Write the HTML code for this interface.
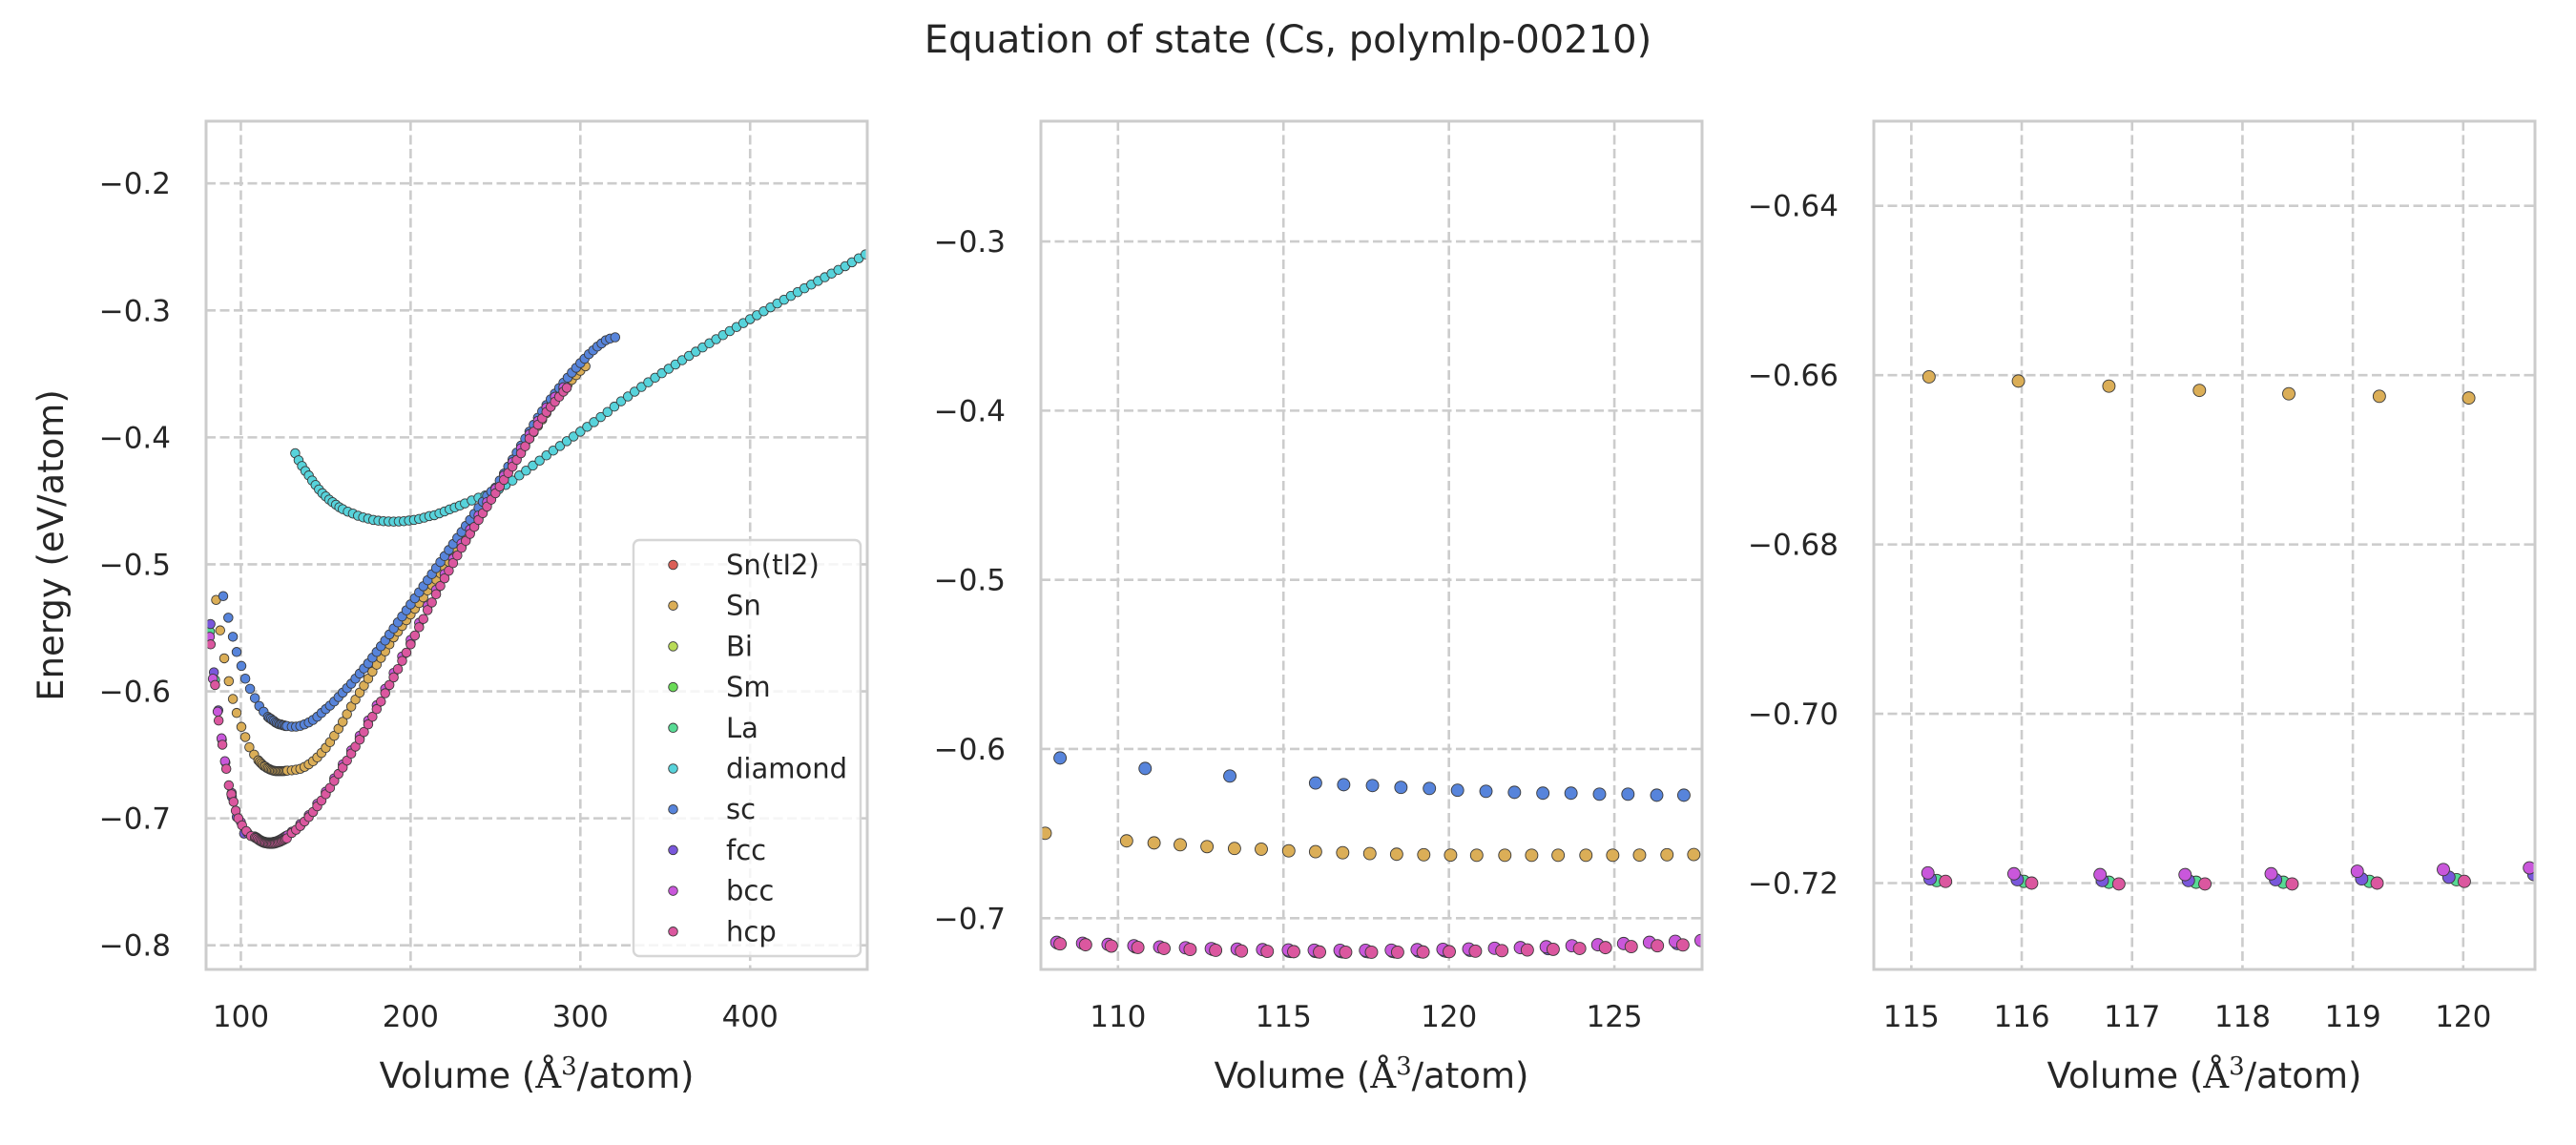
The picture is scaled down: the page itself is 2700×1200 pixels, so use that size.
<!DOCTYPE html>
<html><head><meta charset="utf-8"><title>Equation of state (Cs, polymlp-00210)</title>
<style>
html,body{margin:0;padding:0;background:#fff;}
svg{display:block;font-family:"DejaVu Sans","Liberation Sans",sans-serif;}
</style></head>
<body>
<svg id="chart" xmlns="http://www.w3.org/2000/svg" width="2700" height="1200" viewBox="0 0 2700 1200">
<rect width="2700" height="1200" fill="#ffffff"/>
<text x="1350" y="55" text-anchor="middle" font-size="40" fill="#262626">Equation of state (Cs, polymlp-00210)</text>
<g id="layer"></g>
</svg>
<script>
// ---- data (volume in Å^3/atom, energy in eV/atom) ----
const structures = ["Sn(tI2)","Sn","Bi","Sm","La","diamond","sc","fcc","bcc","hcp"];
const colors = ["#db5f57","#dbae57","#b9db57","#6adb57","#57db94","#57d3db","#5784db","#7957db","#c957db","#db579f"];

const snV = [85.4,87.8,90.2,92.9,95.3,97.5,100.3,102.6,105,107.8,110.26,111.09,111.88,112.69,113.52,114.33,115.16,115.97,116.79,117.61,118.42,119.24,120.05,120.84,121.69,122.5,123.3,124.14,124.95,125.76,126.59,127.4,130,132.5,135,137.5,140,142.5,145,147.5,150,152.5,155,157.5,160,162.5,165,167.5,170,172.5,175,177.5,180,182.5,185,187.5,190,192.5,195,197.5,200,202.5,205,207.5,210,212.5,215,217.5,220,222.5,225,227.5,230,232.5,235,237.5,240,242.5,245,247.5,250,252.5,255,257.5,260,262.5,265,267.5,270,272.5,275,277.5,280,282.5,285,287.5,290,292.5,295,297.5,300,303];
const snE = [-0.528,-0.552,-0.574,-0.592,-0.606,-0.617,-0.628,-0.636,-0.644,-0.6498,-0.6543,-0.6555,-0.6566,-0.6577,-0.6588,-0.6592,-0.6602,-0.6607,-0.6613,-0.6618,-0.6622,-0.6625,-0.6627,-0.6628,-0.6628,-0.6628,-0.6628,-0.6628,-0.6628,-0.6627,-0.6625,-0.6624,-0.6622,-0.6617,-0.661,-0.6595,-0.6575,-0.655,-0.652,-0.6485,-0.6445,-0.64,-0.635,-0.6295,-0.624,-0.618,-0.612,-0.6065,-0.601,-0.5955,-0.59,-0.5845,-0.579,-0.5737,-0.5685,-0.563,-0.5575,-0.553,-0.5485,-0.544,-0.5395,-0.535,-0.5305,-0.526,-0.5205,-0.5162,-0.512,-0.507,-0.5025,-0.498,-0.4935,-0.489,-0.486,-0.4805,-0.475,-0.4695,-0.464,-0.4585,-0.453,-0.4475,-0.442,-0.437,-0.432,-0.427,-0.422,-0.4167,-0.4115,-0.406,-0.401,-0.396,-0.391,-0.386,-0.381,-0.376,-0.3715,-0.3668,-0.3625,-0.3585,-0.3547,-0.351,-0.3475,-0.344];

const laV = [81.8,84.8,115.23,116.02,116.79,117.58,118.37,119.15,119.94];
const laE = [-0.553,-0.591,-0.7197,-0.7198,-0.7199,-0.7199,-0.7199,-0.7198,-0.7196];

const diaV = [132,134,136,138,140,142,144,146,148,150,152,154,156,158,160,163,166,169,172,175,178,181,184,187,190,193,196,199,202,205,208,211,214,217,220,223,226,229,232,236,240,244,248,252,256,260,264,268,272,276,280,284,288,292,296,300,304,308,312,316,320,324,328,332,336,340,344,348,352,356,360,364,368,372,376,380,384,388,392,396,400,404,408,412,416,420,424,428,432,436,440,444,448,452,456,460,464,468,472];
const diaE = [-0.4125,-0.418,-0.4225,-0.4265,-0.430,-0.434,-0.4375,-0.441,-0.444,-0.4465,-0.449,-0.451,-0.453,-0.455,-0.4565,-0.4585,-0.460,-0.4617,-0.463,-0.464,-0.465,-0.4656,-0.466,-0.4662,-0.4663,-0.4662,-0.466,-0.4655,-0.465,-0.4642,-0.4632,-0.462,-0.4613,-0.4598,-0.4583,-0.4567,-0.4552,-0.4537,-0.452,-0.4497,-0.4475,-0.4457,-0.444,-0.4408,-0.4375,-0.434,-0.430,-0.4262,-0.4222,-0.4183,-0.4142,-0.4104,-0.4068,-0.403,-0.3993,-0.3955,-0.3917,-0.388,-0.384,-0.380,-0.3758,-0.3716,-0.3678,-0.364,-0.3603,-0.3566,-0.353,-0.3495,-0.346,-0.3426,-0.3392,-0.3358,-0.3325,-0.3292,-0.3259,-0.3227,-0.3195,-0.3163,-0.3131,-0.310,-0.3069,-0.3038,-0.3007,-0.2976,-0.2946,-0.2916,-0.2886,-0.2856,-0.2826,-0.2797,-0.2768,-0.2739,-0.271,-0.2681,-0.2652,-0.2621,-0.259,-0.2559,-0.2528];

const scV = [89.6,92.6,95.3,97.5,100.3,102.6,105.4,108.25,110.82,113.38,115.97,116.82,117.69,118.55,119.41,120.26,121.12,121.98,122.84,123.69,124.55,125.41,126.28,127.1,130,132.5,135,137.5,140,142.5,145,147.5,150,152.5,155,157.5,160,162.5,165,167.5,170,172.5,175,177.5,180,182.5,185,187.5,190,192.5,195,197.5,200,202.5,205,207.5,210,212.5,215,217.5,220,222.5,225,227.5,230,232.5,235,237.5,240,242.5,245,247.5,250,252.5,255,257.5,260,262.5,265,267.5,270,272.5,275,277.5,280,282.5,285,287.5,290,292.5,295,297.5,300,302.5,305,307.5,310,312.5,315,317.5,320.5];
const scE = [-0.525,-0.542,-0.557,-0.569,-0.580,-0.590,-0.598,-0.6053,-0.6115,-0.616,-0.6201,-0.6211,-0.6216,-0.6227,-0.6233,-0.6244,-0.625,-0.6256,-0.6261,-0.6261,-0.6267,-0.6267,-0.6273,-0.6273,-0.6278,-0.6278,-0.6272,-0.626,-0.6245,-0.6225,-0.620,-0.617,-0.614,-0.6112,-0.608,-0.6045,-0.601,-0.5975,-0.594,-0.590,-0.586,-0.582,-0.578,-0.5735,-0.569,-0.5645,-0.560,-0.5552,-0.5505,-0.5457,-0.541,-0.5362,-0.5315,-0.5267,-0.522,-0.5172,-0.5125,-0.5077,-0.503,-0.4982,-0.4935,-0.4887,-0.484,-0.4792,-0.4745,-0.4697,-0.465,-0.4602,-0.4555,-0.4507,-0.446,-0.4427,-0.4395,-0.434,-0.4285,-0.423,-0.4175,-0.412,-0.4065,-0.401,-0.3955,-0.39,-0.3845,-0.3795,-0.3745,-0.37,-0.3655,-0.3612,-0.357,-0.353,-0.349,-0.3452,-0.3415,-0.338,-0.3345,-0.3315,-0.3285,-0.326,-0.3235,-0.3222,-0.3212];

const fccV = [82.1,84.1,86.7,88.8,90.9,94.7,97.6,101.9,108.18,110.53,112.87,115.17,115.96,116.73,117.51,118.30,119.08,119.87,120.64,123.0,126.9,135,150,170,200,230,260,290];
const fccE = [-0.547,-0.585,-0.615,-0.638,-0.656,-0.683,-0.699,-0.712,-0.7147,-0.7170,-0.7184,-0.7195,-0.7196,-0.7197,-0.7197,-0.7196,-0.7195,-0.7193,-0.7190,-0.7180,-0.7150,-0.706,-0.680,-0.637,-0.562,-0.484,-0.420,-0.362];

const bccV = [81.7,83.5,86.3,88.6,90.6,94.6,100,104,108.15,108.93,109.7,110.48,111.26,112.04,112.82,113.6,114.37,115.15,115.93,116.71,117.48,118.26,119.04,119.82,120.6,121.38,122.16,122.94,123.72,124.5,125.28,126.06,126.84,127.62,130,135,140,145,150,155,160,165,170,175,180,185,190,195,200,205,210,215,220,225,230,235,240,245,250,255,260,265,270,275,280,285,290];
const bccE = [-0.557,-0.590,-0.616,-0.637,-0.655,-0.680,-0.703,-0.7115,-0.7143,-0.7148,-0.7155,-0.7163,-0.7170,-0.7175,-0.7180,-0.7183,-0.7186,-0.7188,-0.7189,-0.7190,-0.7190,-0.7189,-0.7186,-0.7184,-0.7182,-0.7178,-0.7174,-0.7169,-0.7163,-0.7157,-0.7150,-0.7143,-0.7137,-0.7132,-0.7105,-0.7045,-0.6975,-0.6885,-0.679,-0.6685,-0.6575,-0.6465,-0.635,-0.623,-0.611,-0.598,-0.5855,-0.5725,-0.5595,-0.546,-0.5325,-0.520,-0.5075,-0.4955,-0.4835,-0.4725,-0.4615,-0.451,-0.4405,-0.430,-0.4195,-0.4085,-0.3975,-0.387,-0.3765,-0.368,-0.3605];

const hcpV = [82.2,84.8,86.9,89.1,91.4,92.9,94.4,95.7,97,98.5,100.7,103.2,106,108.25,109.02,109.8,110.6,111.39,112.18,112.95,113.73,114.51,115.31,116.09,116.88,117.66,118.45,119.22,120.01,120.8,121.6,122.37,123.15,123.95,124.73,125.51,126.3,127.07,130,132.5,135,137.5,140,142.5,145,147.5,150,152.5,155,157.5,160,162.5,165,167.5,170,172.5,175,177.5,180,182.5,185,187.5,190,192.5,195,197.5,200,202.5,205,207.5,210,212.5,215,217.5,220,222.5,225,227.5,230,232.5,235,237.5,240,242.5,245,247.5,250,252.5,255,257.5,260,262.5,265,267.5,270,272.5,275,277.5,280,282.5,285,287.5,290,292];
const hcpE = [-0.563,-0.595,-0.623,-0.642,-0.661,-0.674,-0.681,-0.687,-0.694,-0.700,-0.7055,-0.710,-0.714,-0.7152,-0.7157,-0.7165,-0.7173,-0.7179,-0.7185,-0.719,-0.7194,-0.7196,-0.7198,-0.7200,-0.7201,-0.7201,-0.7201,-0.7200,-0.7198,-0.7195,-0.7192,-0.7188,-0.7184,-0.7179,-0.7174,-0.7168,-0.7163,-0.7158,-0.7115,-0.709,-0.706,-0.7025,-0.699,-0.695,-0.6905,-0.686,-0.681,-0.676,-0.6705,-0.665,-0.660,-0.6545,-0.649,-0.6435,-0.638,-0.632,-0.626,-0.620,-0.614,-0.608,-0.6015,-0.595,-0.589,-0.5825,-0.576,-0.5695,-0.563,-0.556,-0.5495,-0.543,-0.536,-0.530,-0.5235,-0.517,-0.511,-0.505,-0.499,-0.493,-0.487,-0.4815,-0.476,-0.4705,-0.465,-0.4597,-0.4545,-0.449,-0.444,-0.4387,-0.4335,-0.428,-0.423,-0.4177,-0.4125,-0.407,-0.401,-0.3955,-0.390,-0.385,-0.380,-0.376,-0.372,-0.368,-0.364,-0.361];

// ticks
const p1XTicks = [100,200,300,400];
const p1YTicks = [-0.8,-0.7,-0.6,-0.5,-0.4,-0.3,-0.2];
const p2XTicks = [110,115,120,125];
const p2YTicks = [-0.7,-0.6,-0.5,-0.4,-0.3];
const p3XTicks = [115,116,117,118,119,120];
const p3YTicks = [-0.72,-0.70,-0.68,-0.66,-0.64];

const series = [
  {name:"Sn(tI2)", V:[], E:[]},
  {name:"Sn", V:snV, E:snE},
  {name:"Bi", V:[], E:[]},
  {name:"Sm", V:[], E:[]},
  {name:"La", V:laV, E:laE},
  {name:"diamond", V:diaV, E:diaE},
  {name:"sc", V:scV, E:scE},
  {name:"fcc", V:fccV, E:fccE},
  {name:"bcc", V:bccV, E:bccE},
  {name:"hcp", V:hcpV, E:hcpE}
];

const NS = "http://www.w3.org/2000/svg";
const layer = document.getElementById('layer');
function mk(tag, attrs, parent){
  const el = document.createElementNS(NS, tag);
  for (const k in attrs) el.setAttribute(k, attrs[k]);
  (parent||layer).appendChild(el);
  return el;
}
function fmt(v, dec){ const s = Math.abs(v).toFixed(dec); return (v<0?"\u2212":"")+s; }

const panels = [
  {id:"p1", L:216, T:127, W:693, H:889, x0:79.5, x1:469, y0:-0.819, y1:-0.151, xt:p1XTicks, yt:p1YTicks, dec:1, xdec:0, r:4.8, ylabel:true, legend:true},
  {id:"p2", L:1091, T:127, W:693, H:889, x0:107.67, x1:127.65, y0:-0.7303, y1:-0.2289, xt:p2XTicks, yt:p2YTicks, dec:1, xdec:0, r:6.5},
  {id:"p3", L:1964, T:127, W:693, H:889, x0:114.66, x1:120.65, y0:-0.7302, y1:-0.630, xt:p3XTicks, yt:p3YTicks, dec:2, xdec:0, r:6.5}
];

panels.forEach((p, pi) => {
  const sx = v => p.L + (v - p.x0) / (p.x1 - p.x0) * p.W;
  const sy = e => p.T + (p.y1 - e) / (p.y1 - p.y0) * p.H;
  const g = mk('g', {}, layer);
  
  
  const clipId = 'clip' + pi;
  const cp = mk('clipPath', {id: clipId}, g);
  mk('rect', {x:p.L, y:p.T, width:p.W, height:p.H}, cp);
  const grid = mk('g', {}, g);
  
  
  p.xt.forEach(t => {
    const ln = mk('line', {x1:sx(t), x2:sx(t), y1:p.T, y2:p.T+p.H, stroke:'#cccccc', 'stroke-width':2.6, 'stroke-dasharray':'10,4.5'}, grid);
    
    
    const tx = mk('text', {x:sx(t), y:1076, 'text-anchor':'middle', 'font-size':31, fill:'#262626'}, g);
    tx.textContent = fmt(t, p.xdec);
    
    
  });
  p.yt.forEach(t => {
    const ln = mk('line', {x1:p.L, x2:p.L+p.W, y1:sy(t), y2:sy(t), stroke:'#cccccc', 'stroke-width':2.6, 'stroke-dasharray':'10,4.5'}, grid);
    
    
    const tx = mk('text', {x:p.L-37, y:sy(t)+11, 'text-anchor':'end', 'font-size':31, fill:'#262626'}, g);
    tx.textContent = fmt(t, p.dec);
    
    
  });
  const pts = mk('g', {'clip-path':'url(#'+clipId+')'}, g);
  
  
  series.forEach((s, si) => {
    const sg = mk('g', {fill:colors[si], stroke:'#3a3a3a', 'stroke-width':0.9}, pts);
    
    
    for (let i = 0; i < s.V.length; i++) {
      const c = mk('circle', {cx:sx(s.V[i]), cy:sy(s.E[i]), r:p.r}, sg);
      
      
    }
  });
  const fr = mk('rect', {x:p.L, y:p.T, width:p.W, height:p.H, fill:'none', stroke:'#cccccc', 'stroke-width':3}, g);
  
  
  const xl = mk('text', {x:p.L+p.W/2, y:1140, 'text-anchor':'middle', 'font-size':37, fill:'#262626'}, g);
  
  
  xl.appendChild(document.createTextNode('Volume ('));
  const a = mk('tspan', {'font-family':'"DejaVu Serif","Liberation Serif",serif'}, xl);
  a.textContent = '\u00C5';
  const sup = mk('tspan', {'font-family':'"DejaVu Serif","Liberation Serif",serif', 'font-size':26, dy:-14}, xl);
  sup.textContent = '3';
  const rest = mk('tspan', {dy:14}, xl);
  rest.textContent = '/atom)';
  if (p.ylabel) {
    const yl = mk('text', {x:0, y:0, 'text-anchor':'middle', 'font-size':37, fill:'#262626', transform:'translate(66,'+(p.T+p.H/2)+') rotate(-90)'}, g);
    yl.textContent = 'Energy (eV/atom)';
    
    
  }
  if (p.legend) {
    const lg = mk('g', {}, g);
    
    
    const bx = mk('rect', {x:664, y:566, width:238, height:436, rx:6, fill:'#ffffff', 'fill-opacity':0.8, stroke:'#d6d6d6', 'stroke-width':2.4}, lg);
    
    
    structures.forEach((nm, i) => {
      const y = 592 + i*42.7;
      const e = mk('g', {}, lg);
      
      
      mk('circle', {cx:705.5, cy:y, r:4.8, fill:colors[i], stroke:'#3a3a3a', 'stroke-width':0.9}, e);
      const t = mk('text', {x:761, y:y+10, 'font-size':29, fill:'#262626'}, e);
      t.textContent = nm;
    });
  }
});
</script>
</body></html>
